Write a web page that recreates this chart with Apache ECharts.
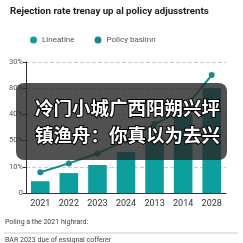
<!DOCTYPE html>
<html>
<head>
<meta charset="utf-8">
<script src="https://cdn.jsdelivr.net/npm/echarts@6/dist/echarts.min.js"></script>
<style>
  html, body { margin: 0; padding: 0; background: #fff; }
  #chart { width: 243px; height: 243px; }
</style>
</head>
<body>
<div id="chart"></div>
<script>
const years = ["2021", "2022", "2023", "2024", "2013", "2014", "2028"];
const barValues = [4.5, 7.6, 10.7, 15.6, 21, 30, 40];
const lineValues = [7.9, 11.3, 15.1, 20, 26.3, 31.7, 45];
const yTickLabels = ["0", "10%", "50%", "40%", "80%", "30%"];
const overlayLines = ["冷门小城广西阳朔兴坪", "镇渔舟：你真以为去兴"];

const chart = echarts.init(document.getElementById("chart"), null, { renderer: "canvas" });

chart.setOption({
  animation: false,
  backgroundColor: "#fff",
  textStyle: { fontFamily: "Roboto, 'Noto Sans', sans-serif" },
  title: {
    text: "Rejection rate trenay up al policy adjusstrents",
    left: 5,
    top: 2,
    textStyle: { fontSize: 9.7, fontWeight: "bold", color: "#222" }
  },
  legend: {
    top: 31,
    left: 25,
    itemGap: 20,
    itemWidth: 7,
    itemHeight: 7,
    icon: "circle",
    textStyle: { fontSize: 8, color: "#555" },
    data: ["Lineatine", "Policy baslinn"]
  },
  grid: { left: 26, right: 17, top: 62, bottom: 50 },
  xAxis: {
    type: "category",
    data: years,
    axisLine: { lineStyle: { color: "#333" } },
    axisTick: { show: false },
    axisLabel: { fontSize: 9, color: "#333", margin: 6 }
  },
  yAxis: {
    type: "value",
    min: 0,
    max: 50,
    interval: 10,
    axisLine: { show: true, lineStyle: { color: "#333" } },
    axisTick: { show: true, length: 3, lineStyle: { color: "#333" } },
    axisLabel: {
      fontSize: 7.5,
      color: "#555",
      margin: 3,
      formatter: (v) => yTickLabels[Math.round(v / 10)]
    },
    splitLine: { lineStyle: { color: "#ccc", type: "dashed" } }
  },
  series: [
    {
      name: "Lineatine",
      type: "bar",
      data: barValues,
      barCategoryGap: "35%",
      itemStyle: { color: "#0c9f9d" },
      z: 2
    },
    {
      name: "Policy baslinn",
      type: "line",
      data: lineValues,
      symbol: "circle",
      symbolSize: 6,
      lineStyle: { color: "#178a91", width: 2 },
      itemStyle: { color: "#178a91" },
      z: 3
    }
  ],
  graphic: [
    {
      type: "rect",
      shape: { x: 16, y: 83, width: 211, height: 77, r: 8 },
      style: { fill: "rgba(38,38,38,0.8)" },
      z: 100
    },
    {
      type: "text",
      x: 35,
      y: 108,
      style: {
        text: overlayLines[0],
        font: "bold 18.5px 'Noto Sans CJK SC'",
        fill: "#fff",
        stroke: "#000",
        lineWidth: 2,
        verticalAlign: "middle"
      },
      z: 101
    },
    {
      type: "text",
      x: 35,
      y: 135,
      style: {
        text: overlayLines[1],
        font: "bold 18.5px 'Noto Sans CJK SC'",
        fill: "#fff",
        stroke: "#000",
        lineWidth: 2,
        verticalAlign: "middle"
      },
      z: 101
    },
    {
      type: "text",
      x: 5,
      y: 222,
      style: {
        text: "Poling a the 2021 highrard:",
        font: "7px Roboto",
        fill: "#444",
        verticalAlign: "middle"
      }
    },
    {
      type: "line",
      shape: { x1: 4, y1: 233, x2: 238, y2: 233 },
      style: { stroke: "#ccc", lineWidth: 1 }
    },
    {
      type: "text",
      x: 5,
      y: 240,
      style: {
        text: "BAR 2023 due of essignal cofferer",
        font: "7px Roboto",
        fill: "#444",
        verticalAlign: "middle"
      }
    }
  ]
});
</script>
</body>
</html>
